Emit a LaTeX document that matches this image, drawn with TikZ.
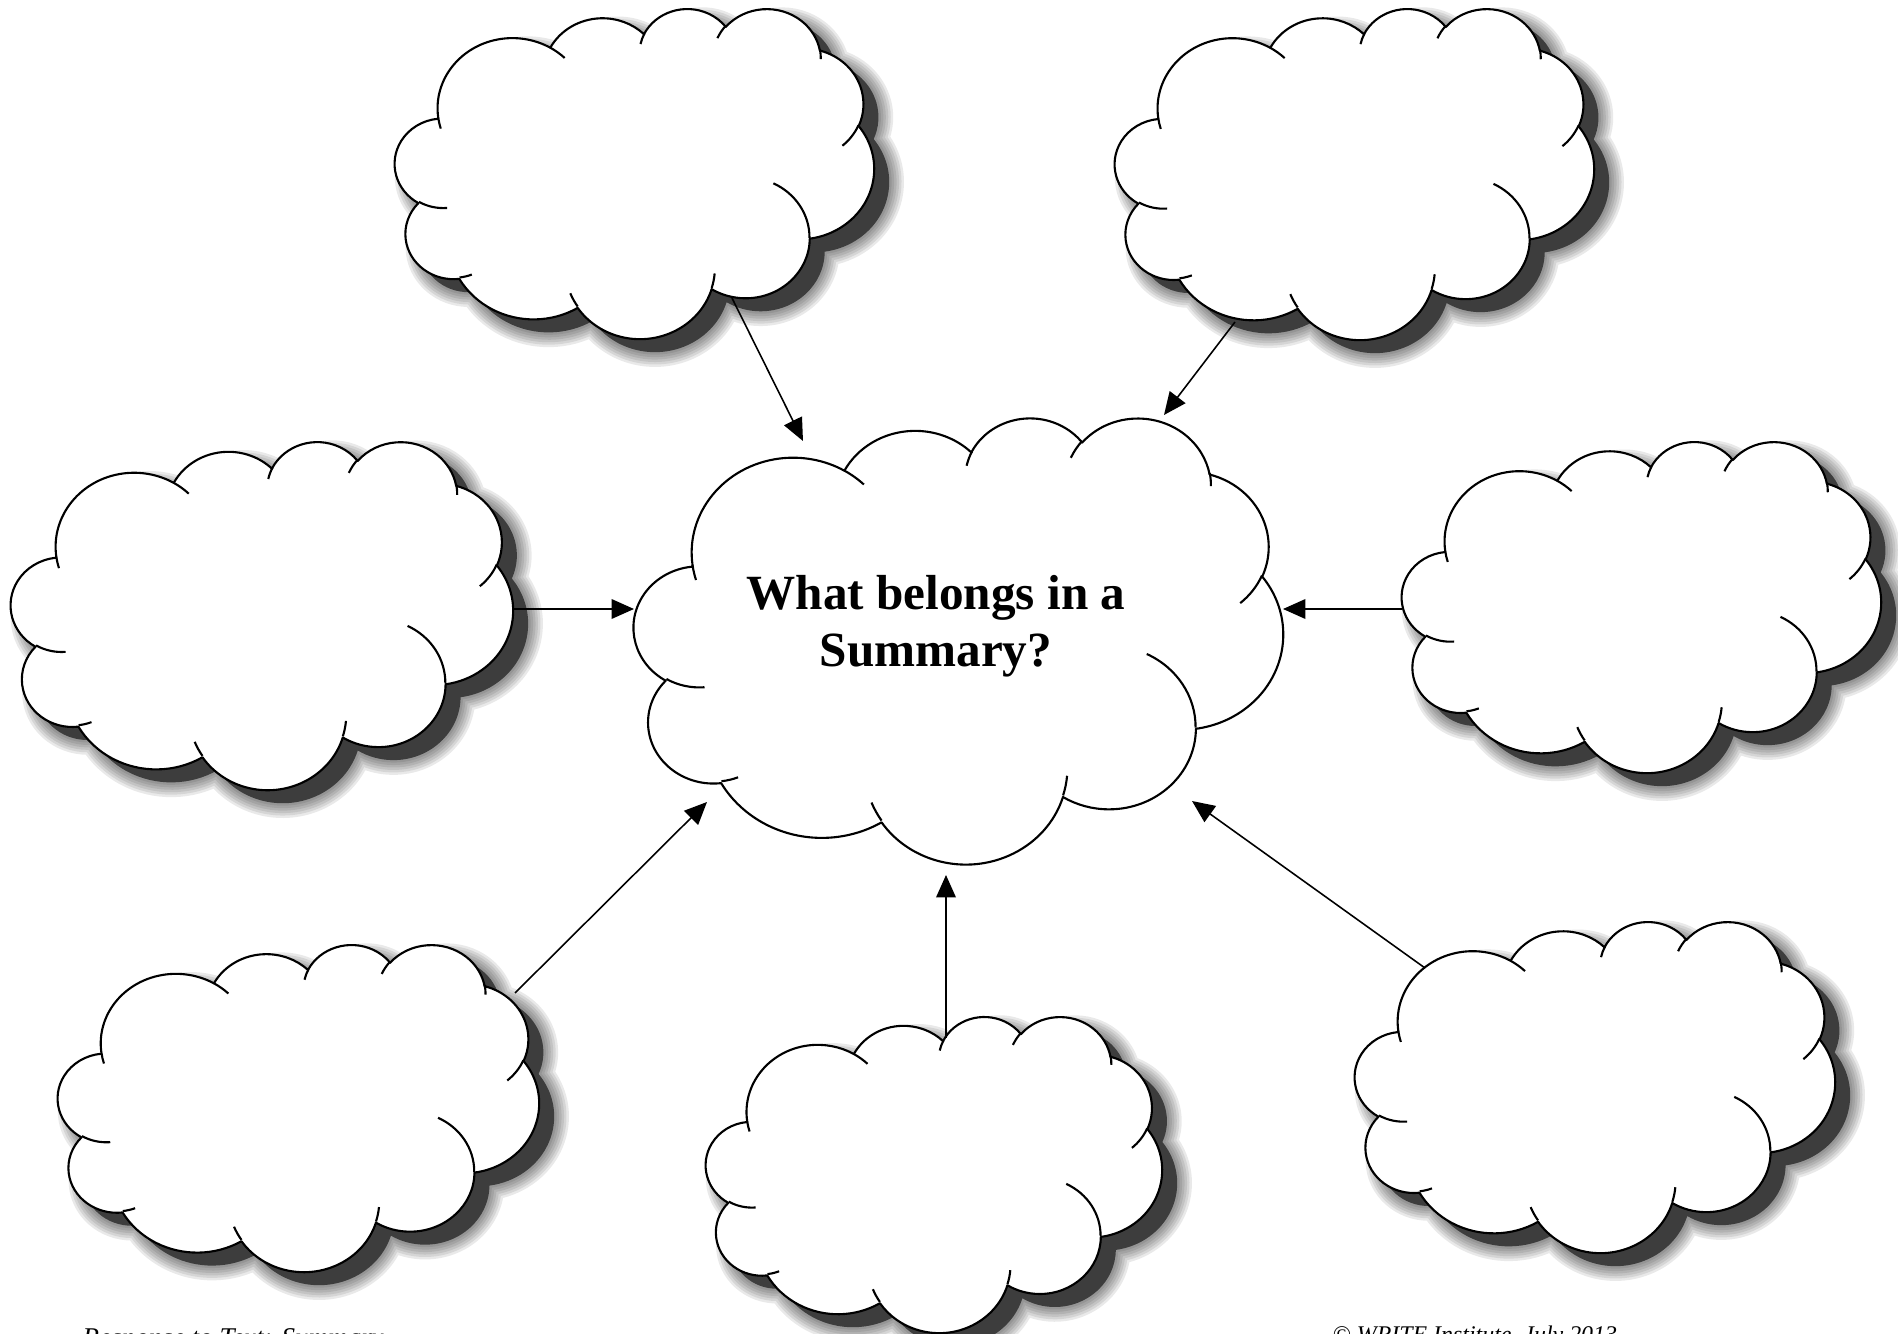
\documentclass[tikz,border=0pt]{standalone}
\usepackage{fontspec}
\setmainfont{Liberation Serif}
\usetikzlibrary{arrows.meta}
\tikzset{
    cloud line/.style={draw, fill=white, line width=0.6pt, line join=round},
    cloud tail/.style={draw, line width=0.6pt},
    flow/.style={-{Triangle[length=6.4pt,width=5.6pt]}, line width=0.45pt},
    title/.style={font=\bfseries\fontsize{14}{16.1}\selectfont, align=center},
    footer/.style={font=\itshape\fontsize{7.7}{9.2}\selectfont, anchor=base west, inner sep=0pt}
}

% outline of one cloud in a 43.2 x 43.2 frame, y pointing down
\newcommand{\cloudshape}{(3.900,14.370)
    arc[start angle=172.25, end angle=300.36, x radius=6.753, y radius=9.190]
    arc[start angle=-152.03, end angle=-45.46, x radius=5.333, y radius=7.267]
    arc[start angle=-153.50, end angle=-37.33, x radius=4.365, y radius=5.945]
    arc[start angle=-139.70, end angle=-10.21, x radius=4.857, y radius=6.595]
    arc[start angle=-74.77, end angle=23.21, x radius=5.333, y radius=7.273]
    arc[start angle=-37.52, end angle=81.86, x radius=6.775, y radius=9.220]
    arc[start angle=0.46, end angle=121.98, x radius=5.785, y radius=7.867]
    arc[start angle=16.84, end angle=146.23, x radius=6.752, y radius=9.215]
    arc[start angle=58.99, end angle=150.21, x radius=7.720, y radius=10.543]
    arc[start angle=83.31, end angle=223.11, x radius=4.360, y radius=5.918]
    arc[start angle=120.36, end angle=264.11, x radius=4.345, y radius=5.945]
    -- cycle}
\newcommand{\cloudtails}{%
    (4.693,26.177) arc[start angle=85.55, end angle=120.36, x radius=4.345, y radius=5.945]
    (6.928,34.899) arc[start angle=68.24, end angle=83.31, x radius=4.360, y radius=5.918]
    (16.478,39.090) arc[start angle=146.23, end angle=158.47, x radius=6.752, y radius=9.215]
    (28.827,34.751) arc[start angle=4.74, end angle=16.84, x radius=6.752, y radius=9.215]
    (34.129,22.954) arc[start angle=-64.03, end angle=0.46, x radius=5.785, y radius=7.867]
    (41.798,15.354) arc[start angle=23.21, end angle=49.65, x radius=5.333, y radius=7.273]
    (38.324,5.426) arc[start angle=-10.21, end angle=0.82, x radius=4.857, y radius=6.595]
    (29.078,3.952) arc[start angle=-156.29, end angle=-139.70, x radius=4.857, y radius=6.595]
    (22.141,4.720) arc[start angle=-167.73, end angle=-153.50, x radius=4.365, y radius=5.945]
    (14.000,5.192) arc[start angle=-59.64, end angle=-45.74, x radius=6.753, y radius=9.190]
    (4.127,15.789) arc[start angle=163.20, end angle=172.25, x radius=6.753, y radius=9.190]}

% #1 left, #2 top, #3 width, #4 height
\newcommand{\cloudshadow}[4]{%
    \begin{scope}[shift={(#1+0.15,-#2-0.13)}, xscale=#3/43.2, yscale=-#4/43.2]
        \foreach \w in {8.4,7,5.6,4.2,2.8,1.4}
            \draw[black, draw opacity=0.085, line width=\w pt, line join=round] \cloudshape;
        \fill[black!76] \cloudshape;
    \end{scope}}
% #1 name, #2 left, #3 top, #4 width, #5 height
\newcommand{\cloud}[5]{%
    \begin{scope}[shift={(#2,-#3)}, xscale=#4/43.2, yscale=-#5/43.2]
        \path[cloud line] \cloudshape;
        \path[cloud tail] \cloudtails;
    \end{scope}
    \node[inner sep=0pt, minimum width=#4cm, minimum height=#5cm] (#1) at ({#2+#4/2},{-#3-#5/2}) {};}

\begin{document}
\begin{tikzpicture}
    \useasboundingbox (0,0) rectangle (18.98,-13.34);

    \cloudshadow{3.95}{0.08}{4.79}{3.30}
    \cloudshadow{11.15}{0.08}{4.79}{3.31}
    \cloudshadow{0.11}{4.41}{5.02}{3.48}
    \cloudshadow{14.02}{4.41}{4.79}{3.31}
    \cloudshadow{0.58}{9.44}{4.81}{3.27}
    \cloudshadow{7.06}{10.16}{4.56}{3.16}
    \cloudshadow{13.55}{9.21}{4.80}{3.31}

    \cloud{tl}{3.95}{0.08}{4.79}{3.30}
    \cloud{tr}{11.15}{0.08}{4.79}{3.31}
    \cloud{l}{0.11}{4.41}{5.02}{3.48}
    \cloud{c}{6.34}{4.17}{6.49}{4.46}
    \cloud{r}{14.02}{4.41}{4.79}{3.31}
    \cloud{bl}{0.58}{9.44}{4.81}{3.27}
    \cloud{bc}{7.06}{10.16}{4.56}{3.16}
    \cloud{br}{13.55}{9.21}{4.80}{3.31}

    \node[title] (q) at (9.36,-6.26) {What belongs in a\\Summary?};

    \coordinate (tl-a) at (7.32,-2.98);
    \coordinate (tr-a) at (12.35,-3.22);
    \coordinate (l-a) at (5.13,-6.09);
    \coordinate (r-a) at (14.02,-6.09);
    \coordinate (bl-a) at (5.15,-9.93);
    \coordinate (bc-a) at (9.46,-10.38);
    \coordinate (br-a) at (14.25,-9.68);
    \coordinate (c-tl) at (8.03,-4.41);
    \coordinate (c-tr) at (11.64,-4.15);
    \coordinate (c-l) at (6.34,-6.09);
    \coordinate (c-r) at (12.83,-6.09);
    \coordinate (c-bl) at (7.07,-8.02);
    \coordinate (c-bc) at (9.46,-8.75);
    \coordinate (c-br) at (11.92,-8.01);

    \draw[flow] (tl-a) -- (c-tl);
    \draw[flow] (tr-a) -- (c-tr);
    \draw[flow] (l-a) -- (c-l);
    \draw[flow] (r-a) -- (c-r);
    \draw[flow] (bl-a) -- (c-bl);
    \draw[flow] (bc-a) -- (c-bc);
    \draw[flow] (br-a) -- (c-br);

    \node[footer] (note-l) at (0.82,-13.46) {Response to Text: Summary};
    \node[footer, font=\itshape\fontsize{6.8}{8.2}\selectfont] (note-r) at (13.32,-13.42) {© WRITE Institute, July 2013};
\end{tikzpicture}
\end{document}
